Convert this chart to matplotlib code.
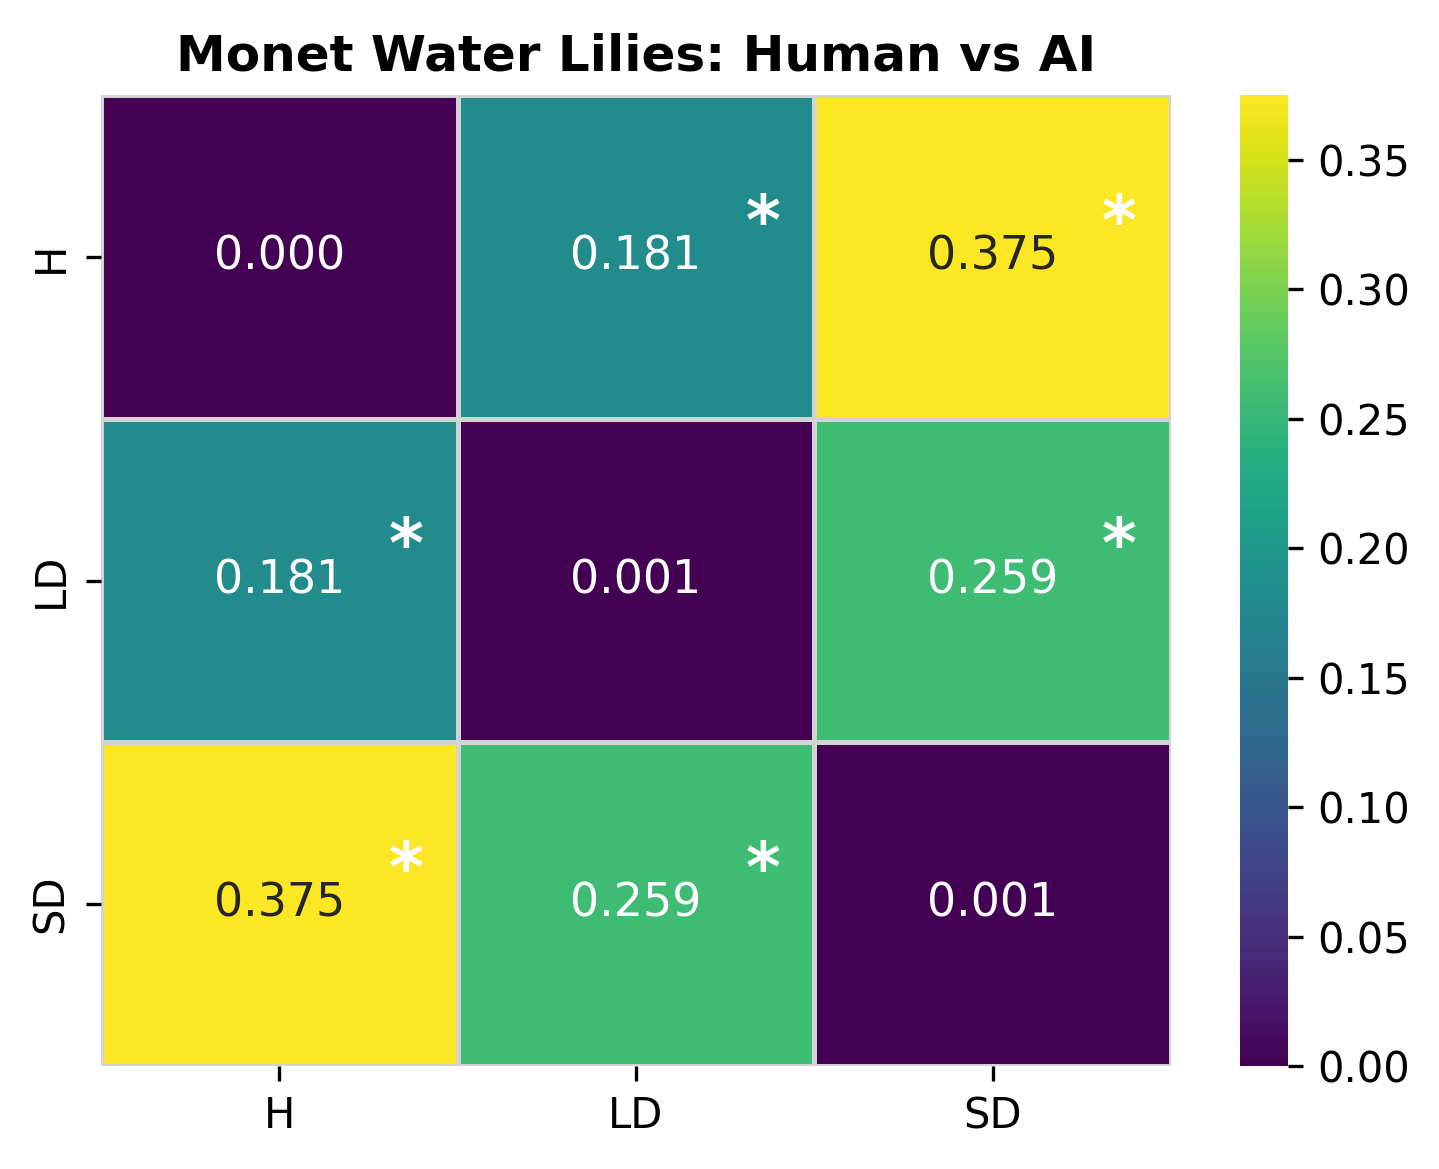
import numpy as np
import matplotlib
matplotlib.use("Agg")
import matplotlib.pyplot as plt
import seaborn as sns

labels = ["H", "LD", "SD"]
dist = np.array([[0.000, 0.181, 0.375],
                 [0.181, 0.001, 0.259],
                 [0.375, 0.259, 0.001]])
signif = np.array([[False, True, True],
                   [True, False, True],
                   [True, True, False]])

fig = plt.figure(figsize=(1439 / 300, 1169 / 300), dpi=300)
ax = fig.add_axes([0.0702, 0.0881, 0.7436, 0.8306])
cax = fig.add_axes([0.8617, 0.0881, 0.0334, 0.8306])

sns.heatmap(dist, ax=ax, cbar_ax=cax, cmap="viridis", annot=True, fmt=".3f",
            annot_kws={"fontsize": 11}, linewidths=0.8, linecolor="lightgray",
            xticklabels=labels, yticklabels=labels, vmin=0, vmax=dist.max())

# mark significant pairs
for i in range(3):
    for j in range(3):
        if signif[i, j]:
            ax.text(j + 0.855, i + 0.40, "*", color="white", fontsize=16,
                    fontweight="bold", ha="center", va="center")

ax.set_title("Monet Water Lilies: Human vs AI", fontsize=12, fontweight="bold")
ax.tick_params(labelsize=10)
cax.tick_params(labelsize=10)

plt.savefig("out.png", dpi=300)
